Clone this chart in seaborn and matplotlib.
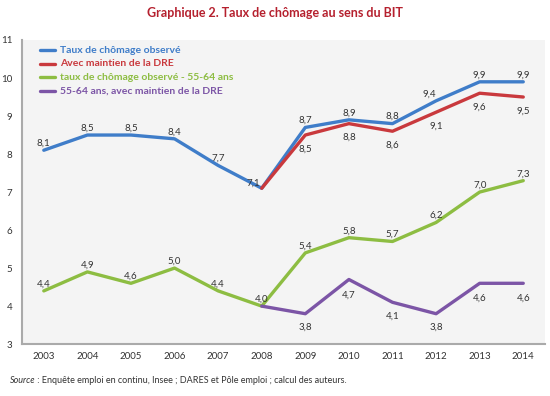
import numpy as np
import pandas as pd
import matplotlib
matplotlib.use("Agg")
import matplotlib.pyplot as plt
import seaborn as sns

# data
years = ["2003", "2004", "2005", "2006", "2007", "2008",
         "2009", "2010", "2011", "2012", "2013", "2014"]
observe = [8.1, 8.5, 8.5, 8.4, 7.7, 7.1, 8.7, 8.9, 8.8, 9.4, 9.9, 9.9]
maintien_dre = [None, None, None, None, None, 7.1, 8.5, 8.8, 8.6, 9.1, 9.6, 9.5]
observe_5564 = [4.4, 4.9, 4.6, 5.0, 4.4, 4.0, 5.4, 5.8, 5.7, 6.2, 7.0, 7.3]
maintien_5564 = [None, None, None, None, None, 4.0, 3.8, 4.7, 4.1, 3.8, 4.6, 4.6]

series_names = ["Taux de chômage observé",
                "Avec maintien de la DRE",
                "taux de chômage observé - 55-64 ans",
                "55-64 ans, avec maintien de la DRE"]
series_values = [observe, maintien_dre, observe_5564, maintien_5564]
colors = ["#3f7dc9", "#c9393d", "#8dbd42", "#7c55a6"]

rows = []
for name, vals in zip(series_names, series_values):
    for i, v in enumerate(vals):
        if v is not None:
            rows.append({"pos": i, "serie": name, "valeur": v})
df = pd.DataFrame(rows)

sns.set_style("white")
plt.rcParams["font.family"] = ["Lato", "DejaVu Sans"]

fig = plt.figure(figsize=(5.5, 3.96), dpi=100)
ax = fig.add_axes([0.04, 0.131, 0.951, 0.768])
ax.set_facecolor("#f4f4f4")

sns.lineplot(data=df, x="pos", y="valeur", hue="serie", hue_order=series_names,
             palette=colors, linewidth=2.4, ax=ax, legend=False)

# value labels
# (dx, dy) offsets in points per series; a few overrides
offsets = [(0, 5), (0, -10), (0, 5), (0, -10)]
special = {(0, 5): (-6, 4), (0, 9): (-5, 5), (1, 5): None, (3, 5): None,
           (3, 7): (0, -11), (3, 10): (0, -11), (3, 11): (0, -11)}
for si, vals in enumerate(series_values):
    for i, v in enumerate(vals):
        if v is None:
            continue
        off = special.get((si, i), offsets[si])
        if off is None:
            continue
        ax.annotate(f"{v:.1f}".replace(".", ","), (i, v), xytext=off,
                    textcoords="offset points", ha="center", va="center",
                    fontsize=7, color="#333333")

ax.set_xlim(-0.5, 11.5)
ax.set_ylim(3, 11)
ax.set_yticks(range(3, 12))
ax.set_yticklabels([str(t) for t in range(3, 12)], fontsize=7, color="#333333")
ax.set_xticks(range(12))
ax.set_xticklabels(years, fontsize=7, color="#333333")
ax.set_xticks(np.arange(-0.5, 12, 1), minor=True)
ax.tick_params(axis="x", which="major", length=0, pad=6)
ax.tick_params(axis="x", which="minor", length=4, color="#aaaaaa", width=0.8)
ax.tick_params(axis="y", length=0, pad=7)
ax.set_xlabel("")
ax.set_ylabel("")
for s in ["top", "right"]:
    ax.spines[s].set_visible(False)
for s in ["left", "bottom"]:
    ax.spines[s].set_color("#aaaaaa")
    ax.spines[s].set_linewidth(1.5)

# legend drawn as coloured lines with coloured bold text
for k, (name, c) in enumerate(zip(series_names, colors)):
    y = 0.967 - k * 0.045
    ax.plot([0.034, 0.064], [y, y], transform=ax.transAxes, color=c, lw=2.4)
    ax.text(0.073, y, name, transform=ax.transAxes, color=c, fontsize=7.5,
            fontweight="bold", va="center")

fig.text(0.5, 0.968, "Graphique 2. Taux de chômage au sens du BIT",
         ha="center", va="center", fontsize=9, fontweight="bold", color="#b5202e")

src = fig.text(0.018, 0.038, "Source", fontsize=6.5, style="italic", color="#333333", va="center")
fig.canvas.draw()
bb = src.get_window_extent()
fig.text(bb.x1 / fig.bbox.width, 0.038,
         " : Enquête emploi en continu, Insee ; DARES et Pôle emploi ; calcul des auteurs.",
         fontsize=6.5, color="#333333", va="center")

fig.savefig("out.png", dpi=100, facecolor="white")
